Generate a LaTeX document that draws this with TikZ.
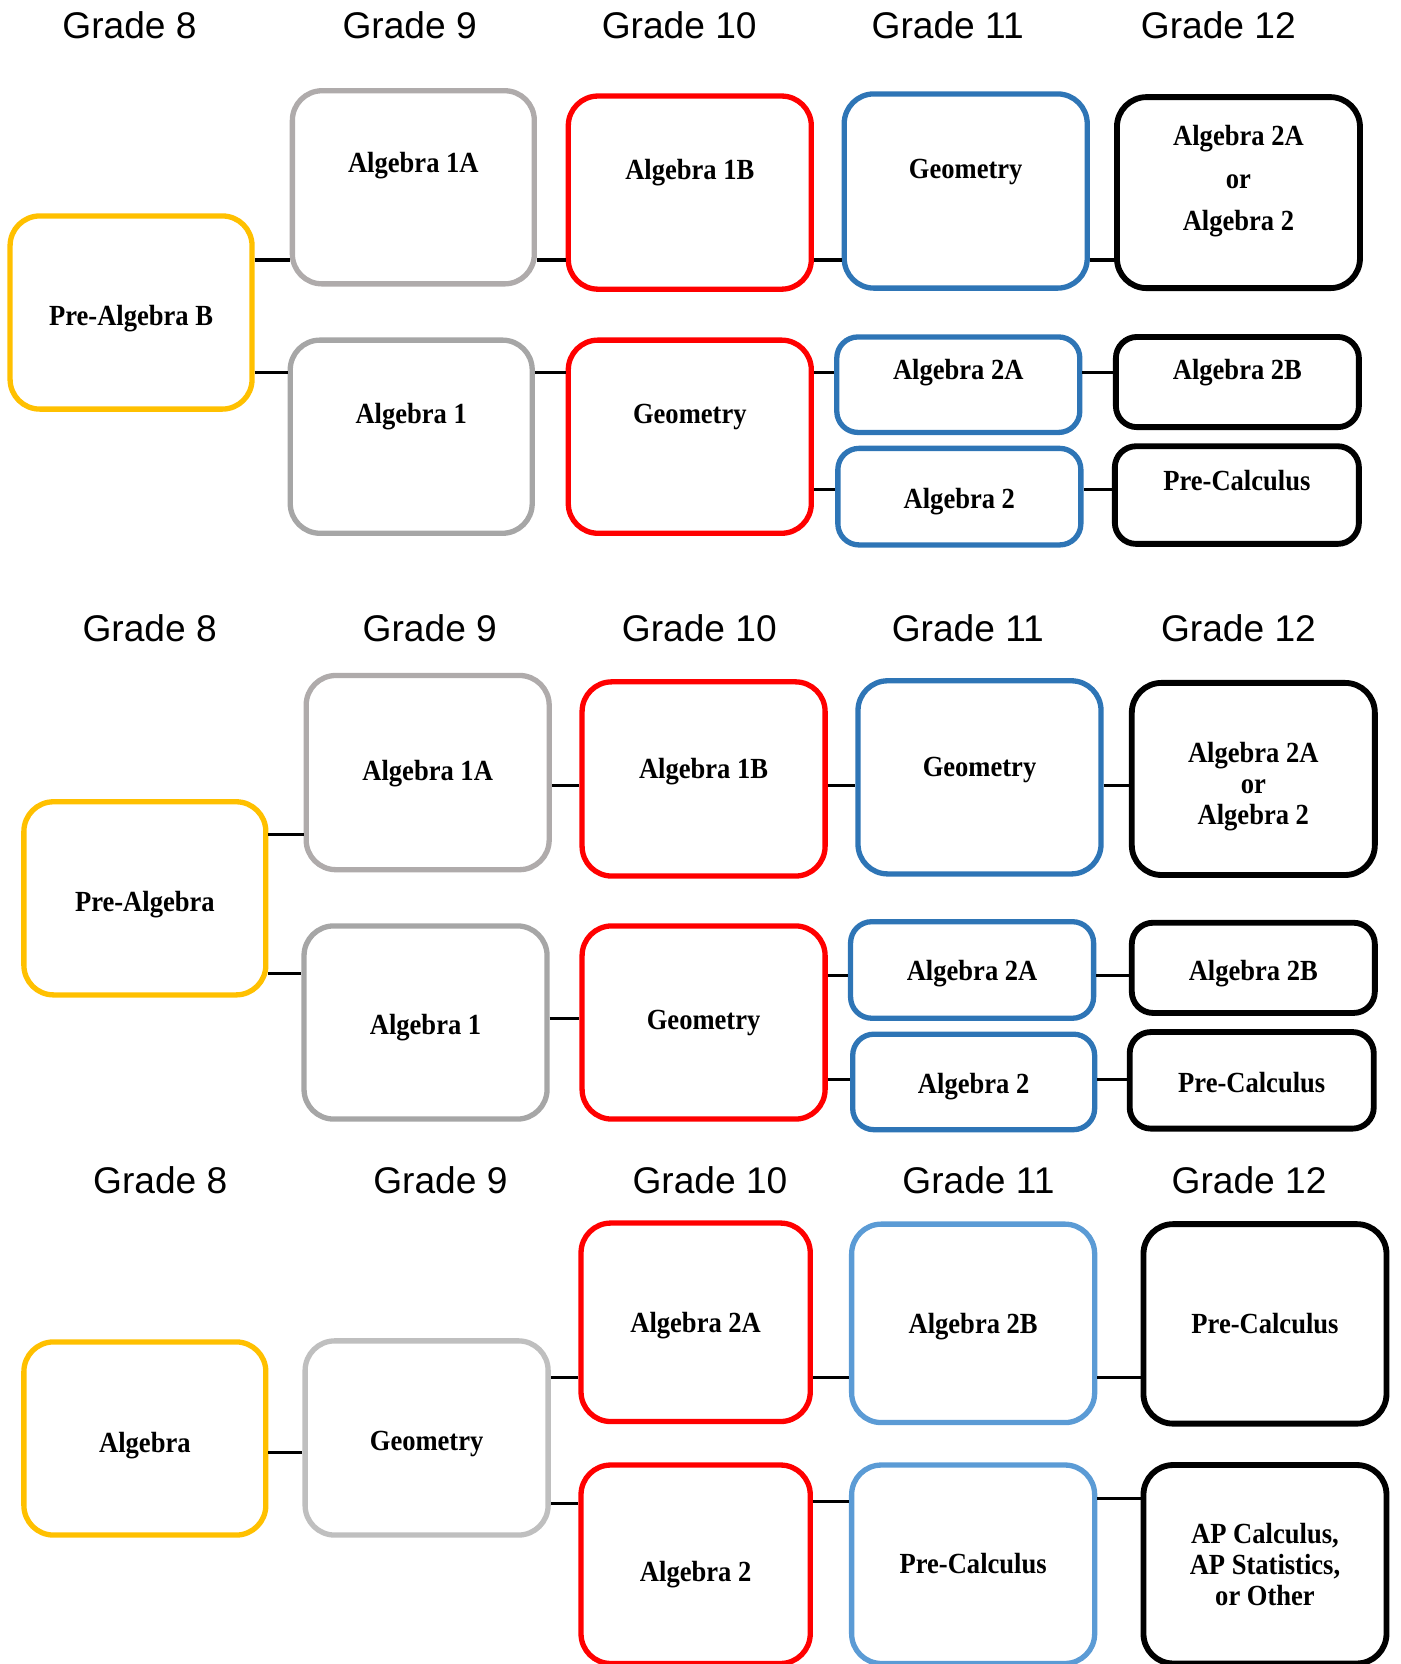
\documentclass[tikz,border=0pt]{standalone}
\usepackage{fontspec}
\setmainfont{Liberation Serif}
\newfontfamily\gradefont{Liberation Sans}
\newfontfamily\coursefont[FakeStretch=0.91]{Liberation Serif}
\definecolor{gold}{HTML}{FFC000}
\definecolor{grayA}{HTML}{AFABAB}
\definecolor{grayB}{HTML}{A6A6A6}
\definecolor{grayC}{HTML}{BFBFBF}
\definecolor{blueA}{HTML}{2E75B6}
\definecolor{blueC}{HTML}{5B9BD5}
\begin{document}
\begin{tikzpicture}[x=1pt,y=-1pt,line cap=round,line join=round,
  course/.style={draw=#1,line width=5pt,rounded corners=28pt,align=center,inner sep=0pt,
    text height=24pt,text depth=6pt,font=\coursefont\bfseries\fontsize{27.5}{29}\selectfont},
  dark/.style={course=black,line width=5.5pt},
  small/.style={rounded corners=20pt},
  grade/.style={font=\gradefont\fontsize{35}{40}\selectfont},
  link/.style={line width=3pt,line cap=butt}]
\useasboundingbox (0,0) rectangle (1320,1568);
\node[grade] (gA8) at (122,24) {Grade 8};
\node[grade] (gA9) at (386,24) {Grade 9};
\node[grade] (gA10) at (640,24) {Grade 10};
\node[grade] (gA11) at (893,24) {Grade 11};
\node[grade] (gA12) at (1148,24) {Grade 12};
\node[course=gold,minimum width=228pt,minimum height=182pt,text height=31pt] (A8) at (123.5,294.5) {Pre-Algebra B};
\node[course=grayA,minimum width=228pt,minimum height=182pt,text height=18pt,text depth=45pt] (A9u) at (389.5,176.5) {Algebra 1A};
\node[course=grayB,minimum width=228pt,minimum height=182pt,text height=18pt,text depth=43pt] (A9d) at (387.5,411.5) {Algebra 1};
\node[course=red,minimum width=229pt,minimum height=182pt,text height=18pt,text depth=43pt] (A10u) at (650,181.5) {Algebra 1B};
\node[course=red,minimum width=229pt,minimum height=182pt,text height=18pt,text depth=43pt] (A10d) at (650,411.5) {Geometry};
\node[course=blueA,minimum width=229pt,minimum height=183pt,text height=18pt,text depth=42pt] (A11u) at (910,180) {Geometry};
\node[course=blueA,small,minimum width=229pt,minimum height=90pt,text height=18pt,text depth=27pt] (A11m) at (903,362.5) {Algebra 2A};
\node[course=blueA,small,minimum width=229pt,minimum height=91pt,text height=28pt] (A11d) at (904,468) {Algebra 2};
\node[dark,minimum width=229pt,minimum height=180pt,text height=78pt] (A12u) at (1167,181.5) {Algebra 2A\\[11pt]or\\[11pt]Algebra 2};
\node[dark,small,minimum width=229pt,minimum height=85pt,text height=18pt,text depth=22pt] (A12m) at (1166,360) {Algebra 2B};
\node[dark,small,minimum width=230pt,minimum height=92pt,text height=18pt,text depth=27pt] (A12d) at (1165.5,466.5) {Pre-Calculus};
\draw[link] (A8.east |- 0,245) -- (A9u.west |- 0,245);
\draw[link] (A8.east |- 0,351) -- (A9d.west |- 0,351);
\draw[link] (A9u.east |- 0,245) -- (A10u.west |- 0,245);
\draw[link] (A9d.east |- 0,351) -- (A10d.west |- 0,351);
\draw[link] (A10u.east |- 0,245) -- (A11u.west |- 0,245);
\draw[link] (A11u.east |- 0,245) -- (A12u.west |- 0,245);
\draw[link] (A10d.east |- 0,351) -- (A11m.west |- 0,351);
\draw[link] (A10d.east |- 0,461) -- (A11d.west |- 0,461);
\draw[link] (A11m.east |- 0,351) -- (A12m.west |- 0,351);
\draw[link] (A11d.east |- 0,461) -- (A12d.west |- 0,461);
\node[grade] (gB8) at (141,592) {Grade 8};
\node[grade] (gB9) at (405,592) {Grade 9};
\node[grade] (gB10) at (659,592) {Grade 10};
\node[grade] (gB11) at (912,592) {Grade 11};
\node[grade] (gB12) at (1167,592) {Grade 12};
\node[course=gold,minimum width=228pt,minimum height=182pt,text height=31pt] (B8) at (136.5,846.5) {Pre-Algebra};
\node[course=grayA,minimum width=229pt,minimum height=183pt,text height=20pt] (B9u) at (403,728) {Algebra 1A};
\node[course=grayB,minimum width=229pt,minimum height=182pt,text height=29pt] (B9d) at (401,963.5) {Algebra 1};
\node[course=red,minimum width=229pt,minimum height=183pt,text height=18pt,text depth=18pt] (B10u) at (663,734) {Algebra 1B};
\node[course=red,minimum width=229pt,minimum height=182pt,text height=19pt] (B10d) at (663,963.5) {Geometry};
\node[course=blueA,minimum width=229pt,minimum height=182pt,text height=18pt,text depth=19pt] (B11u) at (923,732.5) {Geometry};
\node[course=blueA,small,minimum width=229pt,minimum height=91pt,text height=26pt] (B11m) at (916,914) {Algebra 2A};
\node[course=blueA,small,minimum width=228pt,minimum height=90pt,text height=27pt] (B11d) at (917.5,1019.5) {Algebra 2};
\node[dark,minimum width=229pt,minimum height=181pt,text height=91pt] (B12u) at (1181,734) {Algebra 2A\\or\\Algebra 2};
\node[dark,small,minimum width=229pt,minimum height=85pt,text height=30pt] (B12m) at (1181,912) {Algebra 2B};
\node[dark,small,minimum width=230pt,minimum height=91pt,text height=28pt] (B12d) at (1179.5,1018) {Pre-Calculus};
\draw[link] (B8.east |- 0,786) -- (B9u.west |- 0,786);
\draw[link] (B8.east |- 0,917) -- (B9d.west |- 0,917);
\draw[link] (B9u.east |- 0,740) -- (B10u.west |- 0,740);
\draw[link] (B9d.east |- 0,960) -- (B10d.west |- 0,960);
\draw[link] (B10u.east |- 0,740) -- (B11u.west |- 0,740);
\draw[link] (B11u.east |- 0,740) -- (B12u.west |- 0,740);
\draw[link] (B10d.east |- 0,919) -- (B11m.west |- 0,919);
\draw[link] (B10d.east |- 0,1017) -- (B11d.west |- 0,1017);
\draw[link] (B11m.east |- 0,919) -- (B12m.west |- 0,919);
\draw[link] (B11d.east |- 0,1017) -- (B12d.west |- 0,1017);
\node[grade] (gC8) at (151,1112) {Grade 8};
\node[grade] (gC9) at (415,1112) {Grade 9};
\node[grade] (gC10) at (669,1112) {Grade 10};
\node[grade] (gC11) at (922,1112) {Grade 11};
\node[grade] (gC12) at (1177,1112) {Grade 12};
\node[course=gold,minimum width=228pt,minimum height=182pt,text height=33pt] (C8) at (136.5,1355.5) {Algebra};
\node[course=grayC,minimum width=229pt,minimum height=183pt,text height=30pt] (C9) at (402,1355) {Geometry};
\node[course=red,minimum width=216pt,minimum height=187pt,text height=26pt] (C10u) at (655.5,1246) {Algebra 2A};
\node[course=red,minimum width=216pt,minimum height=187pt,text height=38pt] (C10d) at (655.5,1474) {Algebra 2};
\node[course=blueC,minimum width=229pt,minimum height=187pt,text height=26pt] (C11u) at (917,1247) {Algebra 2B};
\node[course=blueC,minimum width=229pt,minimum height=187pt] (C11d) at (917,1474) {Pre-Calculus};
\node[dark,minimum width=229pt,minimum height=188pt,text height=25pt] (C12u) at (1192,1247.5) {Pre-Calculus};
\node[dark,minimum width=229pt,minimum height=187pt,text height=83pt] (C12d) at (1192,1474) {AP Calculus,\\AP Statistics,\\or Other};
\draw[link] (C8.east |- 0,1369) -- (C9.west |- 0,1369);
\draw[link] (C9.east |- 0,1298) -- (C10u.west |- 0,1298);
\draw[link] (C9.east |- 0,1417) -- (C10d.west |- 0,1417);
\draw[link] (C10u.east |- 0,1298) -- (C11u.west |- 0,1298);
\draw[link] (C10d.east |- 0,1415) -- (C11d.west |- 0,1415);
\draw[link] (C11u.east |- 0,1298) -- (C12u.west |- 0,1298);
\draw[link] (C11d.east |- 0,1412) -- (C12d.west |- 0,1412);
\end{tikzpicture}
\end{document}
